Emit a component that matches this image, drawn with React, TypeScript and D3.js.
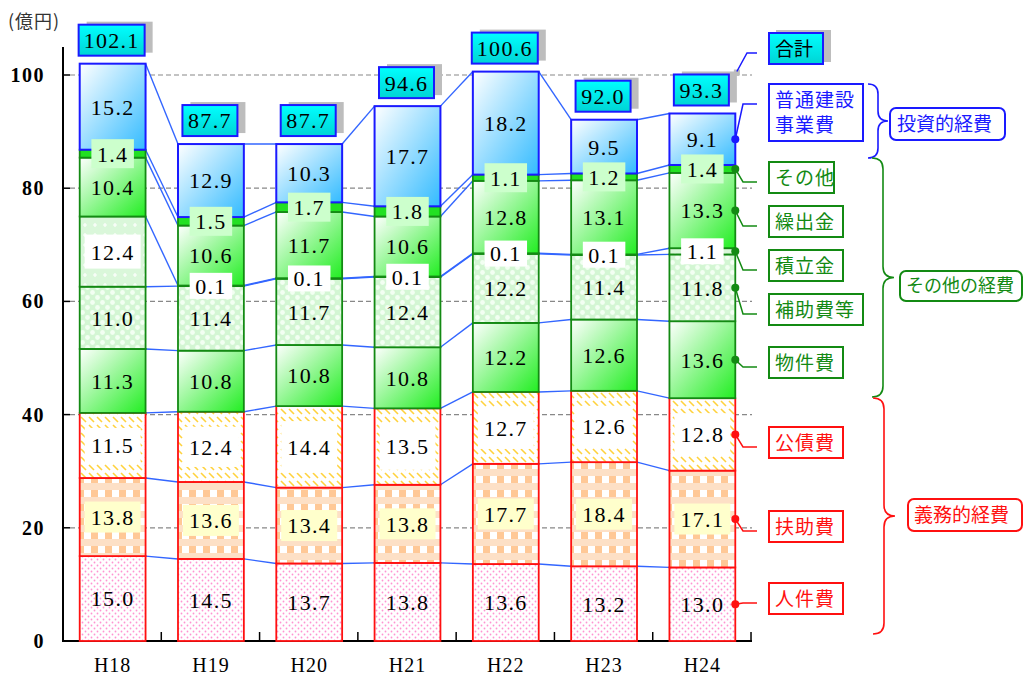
import * as d3 from "d3";

// 年度
const categories = ["H18", "H19", "H20", "H21", "H22", "H23", "H24"];

// 性質別歳出（億円）
const jinkenhi = [15.0, 14.5, 13.7, 13.8, 13.6, 13.2, 13.0];
const fujohi = [13.8, 13.6, 13.4, 13.8, 17.7, 18.4, 17.1];
const kosaihi = [11.5, 12.4, 14.4, 13.5, 12.7, 12.6, 12.8];
const bukkenhi = [11.3, 10.8, 10.8, 10.8, 12.2, 12.6, 13.6];
const hojohi = [11.0, 11.4, 11.7, 12.4, 12.2, 11.4, 11.8];
const tsumitatekin = [12.4, 0.1, 0.1, 0.1, 0.1, 0.1, 1.1];
const kuridashikin = [10.4, 10.6, 11.7, 10.6, 12.8, 13.1, 13.3];
const sonota = [1.4, 1.5, 1.7, 1.8, 1.1, 1.2, 1.4];
const futsuKensetsu = [15.2, 12.9, 10.3, 17.7, 18.2, 9.5, 9.1];
const totals = ["102.1", "87.7", "87.7", "94.6", "100.6", "92.0", "93.3"];

const seriesNames = ["人件費", "扶助費", "公債費", "物件費", "補助費等", "積立金", "繰出金", "その他", "普通建設事業費"];
const seriesValues = [jinkenhi, fujohi, kosaihi, bukkenhi, hojohi, tsumitatekin, kuridashikin, sonota, futsuKensetsu];
const yTicks = [0, 20, 40, 60, 80, 100];
const groupNames = ["投資的経費", "その他の経費", "義務的経費"];

const RED = "#ff1010";
const GREEN = "#138a13";
const BLUE = "#1a1aff";
const LINK = "#3366ff";

const NUM_FONT = "'Liberation Serif', serif";
const JP_FONT = "'Noto Sans CJK JP', sans-serif";

// per-series look (index matches seriesNames)
const segStyle = [
    { fill: "url(#dotsPink)", stroke: RED, bg: null },
    { fill: "url(#gingham)", stroke: RED, bg: "#ffffcc" },
    { fill: "url(#hatchYellow)", stroke: RED, bg: "big" },
    { fill: "url(#gradGreen)", stroke: GREEN, bg: null },
    { fill: "url(#greenCheck)", stroke: GREEN, bg: null },
    { fill: "url(#greenPlus)", stroke: GREEN, bg: "#ffffff" },
    { fill: "url(#gradGreen)", stroke: GREEN, bg: null },
    { fill: "#22e022", stroke: GREEN, bg: "#ccffcc" },
    { fill: "url(#gradBlue)", stroke: BLUE, bg: null },
];

function brace(x: number, y0: number, y1: number, d: number) {
    const ym = (y0 + y1) / 2;
    return `M${x},${y0} Q${x + d},${y0} ${x + d},${y0 + d} L${x + d},${ym - d} Q${x + d},${ym} ${x + 2 * d},${ym}` +
        ` Q${x + d},${ym} ${x + d},${ym + d} L${x + d},${y1 - d} Q${x + d},${y1} ${x},${y1}`;
}

function App() {
    const width = 1023;
    const height = 675;

    const x = d3.scaleBand().domain(categories).range([63, 752]).paddingInner(0.33).paddingOuter(0.17);
    const y = d3.scaleLinear().domain([0, 100]).range([641, 75]);
    const bw = x.bandwidth();

    const keys = seriesNames.map((_, k) => `s${k}`);
    const rows = categories.map((c, i) => {
        const r: Record<string, number | string> = { cat: c };
        seriesValues.forEach((vals, k) => { r[`s${k}`] = vals[i]; });
        return r;
    });
    const stacked = d3.stack<Record<string, number | string>>().keys(keys)(rows as any);

    const last = categories.length - 1;
    const lastRight = (x(categories[last]) as number) + bw;
    const segMid = (k: number, i: number) => y((stacked[k][i][0] + stacked[k][i][1]) / 2);
    const topOf = (i: number) => stacked[stacked.length - 1][i][1];

    // legend layout (box top, box width)
    const legendX = 769;
    const legend = [
        { k: 8, top: 84, w: 94, h: 57, lines: ["普通建設", "事業費"] },
        { k: 7, top: 162, w: 65, h: 31, lines: ["その他"] },
        { k: 6, top: 206, w: 74, h: 31, lines: ["繰出金"] },
        { k: 5, top: 250, w: 74, h: 31, lines: ["積立金"] },
        { k: 4, top: 294, w: 94, h: 31, lines: ["補助費等"] },
        { k: 3, top: 347, w: 74, h: 31, lines: ["物件費"] },
        { k: 2, top: 427, w: 74, h: 31, lines: ["公債費"] },
        { k: 1, top: 511, w: 74, h: 31, lines: ["扶助費"] },
        { k: 0, top: 583, w: 74, h: 31, lines: ["人件費"] },
    ];

    const totalBox = (i: number) => {
        const w = totals[i].length * 11 + 11;
        const h = 31;
        const cx = (x(categories[i]) as number) + bw / 2 - 1;
        const top = y(topOf(i)) - 8 - h;
        return { x: cx - w / 2, y: top, w, h };
    };
    const lastTotal = totalBox(last);

    return (
        <svg width={width} height={height} style={{ position: "absolute", left: 0, top: 0, background: "#fff" }}>
            <defs>
                <pattern id="dotsPink" patternUnits="userSpaceOnUse" width="6" height="6">
                    <rect width="6" height="6" fill="#fff" />
                    <circle cx="1.5" cy="1.5" r="0.9" fill="#ff94d2" />
                    <circle cx="4.5" cy="4.5" r="0.9" fill="#ff94d2" />
                </pattern>
                <pattern id="gingham" patternUnits="userSpaceOnUse" width="14" height="14">
                    <rect width="14" height="14" fill="#fde0c6" />
                    <rect x="0" y="0" width="7" height="7" fill="#ffffff" />
                    <rect x="7" y="0" width="7" height="7" fill="#ffc896" />
                </pattern>
                <pattern id="hatchYellow" patternUnits="userSpaceOnUse" width="8" height="8">
                    <rect width="8" height="8" fill="#fff" />
                    <path d="M1,1 L6,6" stroke="#ffd23c" strokeWidth="1.6" />
                </pattern>
                <pattern id="greenCheck" patternUnits="userSpaceOnUse" width="10" height="10">
                    <rect width="10" height="10" fill="#d3f6d3" />
                    <circle cx="2.5" cy="2.5" r="2.4" fill="#f2fff2" />
                    <circle cx="7.5" cy="7.5" r="2.4" fill="#f2fff2" />
                </pattern>
                <pattern id="greenPlus" patternUnits="userSpaceOnUse" width="10" height="10">
                    <rect width="10" height="10" fill="#daf7da" />
                    <path d="M5,3 V7 M3,5 H7" stroke="#ffffff" strokeWidth="1.2" />
                </pattern>
                <linearGradient id="gradGreen" x1="0" y1="0" x2="1" y2="1">
                    <stop offset="0" stopColor="#ffffff" />
                    <stop offset="1" stopColor="#22ee22" />
                </linearGradient>
                <linearGradient id="gradBlue" x1="0" y1="0" x2="1" y2="1">
                    <stop offset="0" stopColor="#ffffff" />
                    <stop offset="1" stopColor="#33bbff" />
                </linearGradient>
                <linearGradient id="gradCyan" x1="0" y1="0" x2="0" y2="1">
                    <stop offset="0" stopColor="#00ffff" />
                    <stop offset="1" stopColor="#00d4d4" />
                </linearGradient>
            </defs>

            {/* unit */}
            <text x={8} y={28} fontFamily={JP_FONT} fontSize="18" letterSpacing="1" fill="#333">(億円)</text>

            {/* gridlines */}
            {yTicks.filter(t => t > 0).map(t => (
                <line key={t} x1={70} x2={752} y1={y(t)} y2={y(t)} stroke="#888" strokeDasharray="5,3" strokeWidth="1.2" />
            ))}

            {/* y axis */}
            <line x1={63} x2={63} y1={47} y2={y(0)} stroke="#000" strokeWidth="2" />
            {yTicks.map(t => (
                <g key={t}>
                    {t > 0 && <line x1={63} x2={70} y1={y(t)} y2={y(t)} stroke="#000" strokeWidth="1.5" />}
                    <text x={45} y={y(t)} dy="0.35em" textAnchor="end" fontFamily={NUM_FONT} fontWeight="bold" fontSize="20" letterSpacing="1.5">{t}</text>
                </g>
            ))}

            {/* x axis */}
            <line x1={62} x2={752} y1={y(0)} y2={y(0)} stroke="#000" strokeWidth="2" />
            {categories.map((c, i) => {
                const bx = 63 + (i + 1) * x.step();
                return <line key={c} x1={bx} x2={bx} y1={y(0)} y2={y(0) - 9} stroke="#000" strokeWidth="1.5" />;
            })}
            {categories.map(c => (
                <text key={c} x={(x(c) as number) + bw / 2} y={665} dy="0.35em" textAnchor="middle" fontFamily={NUM_FONT} fontSize="20" letterSpacing="1">{c}</text>
            ))}

            {/* connector lines between bars */}
            <g stroke={LINK} strokeWidth="1.4" fill="none">
                {stacked.map((s, k) => categories.slice(0, -1).map((c, i) => (
                    <line key={`${k}-${i}`}
                        x1={(x(c) as number) + bw} y1={y(s[i][1])}
                        x2={x(categories[i + 1]) as number} y2={y(s[i + 1][1])} />
                )))}
            </g>

            {/* bars */}
            {stacked.map((s, k) => (
                <g key={k}>
                    {s.map((d, i) => (
                        <rect key={i}
                            x={x(categories[i])} y={y(d[1])} width={bw} height={Math.max(y(d[0]) - y(d[1]), 0.5)}
                            fill={segStyle[k].fill} stroke={segStyle[k].stroke} strokeWidth={k === 8 ? 2 : 1.8} />
                    ))}
                </g>
            ))}

            {/* value labels */}
            {stacked.map((s, k) => (
                <g key={k}>
                    {s.map((d, i) => {
                        const label = seriesValues[k][i].toFixed(1);
                        const cx = (x(categories[i]) as number) + bw / 2;
                        const cy = segMid(k, i);
                        const segH = y(d[0]) - y(d[1]);
                        const st = segStyle[k];
                        let bg = null;
                        if (st.bg === "big") {
                            const bh = Math.max(segH - 30, 28);
                            bg = <rect x={cx - bw / 2 + 5} y={cy - bh / 2} width={bw - 10} height={bh} fill="#fff" />;
                        } else if (st.bg) {
                            const w = label.length * 13.5 + 2;
                            const h = k === 5 ? Math.max(Math.min(segH - 30, 34), 26) : (k === 1 ? 31 : 29);
                            bg = <rect x={cx - w / 2} y={cy - h / 2} width={w} height={h} fill={st.bg} />;
                        }
                        return (
                            <g key={i}>
                                {bg}
                                <text x={cx} y={cy} dy="0.36em" textAnchor="middle" fontFamily={NUM_FONT} fontSize="22" letterSpacing="1.3">{label}</text>
                            </g>
                        );
                    })}
                </g>
            ))}

            {/* totals */}
            {categories.map((c, i) => {
                const b = totalBox(i);
                return (
                    <g key={c}>
                        <rect x={b.x + 8} y={b.y - 3} width={b.w} height={b.h} fill="#bdbdbd" />
                        <rect x={b.x} y={b.y} width={b.w} height={b.h} fill="url(#gradCyan)" stroke={BLUE} strokeWidth="2" />
                        <text x={b.x + b.w / 2} y={b.y + b.h / 2} dy="0.36em" textAnchor="middle" fontFamily={NUM_FONT} fontSize="22" letterSpacing="1.3">{totals[i]}</text>
                    </g>
                );
            })}

            {/* legend: 合計 */}
            <rect x={lastTotal.x + lastTotal.w + 5} y={lastTotal.y - 5} width={6} height={6} fill="#bdbdbd" />
            <polyline points={`${lastTotal.x + lastTotal.w + 8},${lastTotal.y - 3} 747,53 757,53`} fill="none" stroke={BLUE} strokeWidth="1.5" />
            <rect x={legendX + 7} y={30} width={55} height={32} fill="#bdbdbd" />
            <rect x={legendX} y={33} width={54} height={31} fill="url(#gradCyan)" stroke={BLUE} strokeWidth="2" />
            <text x={legendX + 6} y={49} dy="0.36em" fontFamily={JP_FONT} fontSize="19" fill="#000">合計</text>

            {/* legend: series */}
            {legend.map(l => {
                const color = segStyle[l.k].stroke;
                const dotY = segMid(l.k, last);
                const elbow = l.top + 20;
                return (
                    <g key={l.k}>
                        <polyline points={`${lastRight},${dotY} 743,${elbow} 757,${elbow}`} fill="none" stroke={color} strokeWidth="1.5" />
                        <circle cx={lastRight} cy={dotY} r={4} fill={color} />
                        <rect x={legendX} y={l.top} width={l.w} height={l.h} fill="#fff" stroke={color} strokeWidth="2" />
                        {l.lines.map((t, j) => (
                            <text key={j} x={legendX + 6} y={l.top + 16 + j * 25} dy="0.36em" fontFamily={JP_FONT} fontSize="19" letterSpacing="1" fill={color}>{t}</text>
                        ))}
                    </g>
                );
            })}

            {/* group braces */}
            <path d={brace(868, 84, 158, 10)} fill="none" stroke={BLUE} strokeWidth="1.6" />
            <rect x={890} y={108} width={115} height={32} rx={6} fill="#fff" stroke={BLUE} strokeWidth="2" />
            <text x={897} y={124} dy="0.36em" fontFamily={JP_FONT} fontSize="19" fill={BLUE}>{groupNames[0]}</text>

            <path d={brace(872, 158, 397, 11)} fill="none" stroke={GREEN} strokeWidth="1.6" />
            <rect x={900} y={271} width={122} height={30} rx={6} fill="#fff" stroke={GREEN} strokeWidth="2" />
            <text x={906} y={286} dy="0.36em" fontFamily={JP_FONT} fontSize="18" fill={GREEN}>{groupNames[1]}</text>

            <path d={brace(873, 398, 634, 11)} fill="none" stroke={RED} strokeWidth="1.6" />
            <rect x={908} y={499} width={114} height={32} rx={6} fill="#fff" stroke={RED} strokeWidth="2" />
            <text x={914} y={515} dy="0.36em" fontFamily={JP_FONT} fontSize="19" fill={RED}>{groupNames[2]}</text>
        </svg>
    );
}

export default App;
